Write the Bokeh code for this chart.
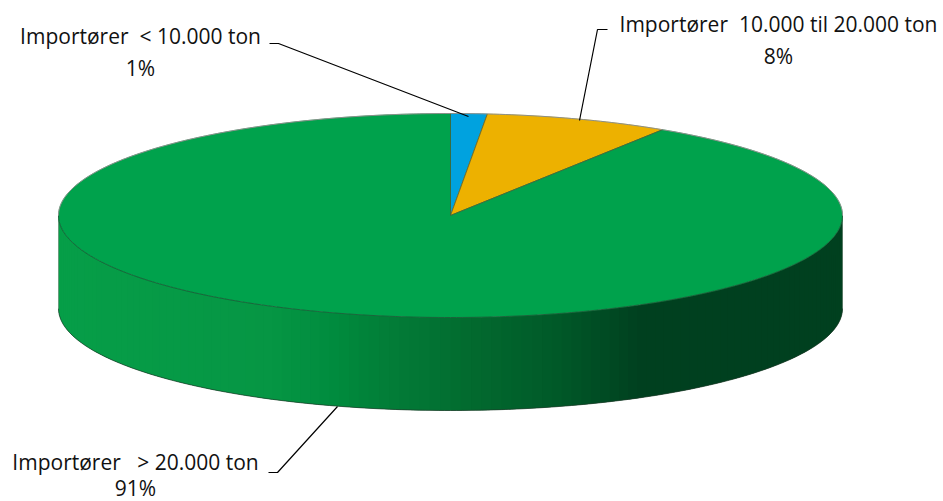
import math
from bokeh.plotting import figure
from bokeh.embed import file_html
from bokeh.resources import INLINE
from bokeh.core.properties import value

# ---- data
categories = ["Importører\u00a0 < 10.000 ton", "Importører\u00a0 10.000 til 20.000 ton", "Importører\u00a0 \u00a0> 20.000 ton"]
percent_labels = ["1%", "8%", "91%"]
shares = [1.5, 7.6, 90.9]
slice_colors = ["#00A2DF", "#EDB100", "#00A24C"]

# ---- geometry / style of the tilted pie (page pixels)
CX, CY, RX, RY, DEPTH = 450, 215, 392, 102, 93
wall_stops = [(58, (6, 158, 72)), (270, (6, 150, 68)), (330, (0, 140, 62)), (400, (2, 122, 54)),
              (480, (2, 104, 46)), (560, (0, 88, 40)), (640, (0, 64, 31)), (842, (0, 64, 31))]
label_x = [140, 778, 135]
label_y = [35, 23, 461]
line_gap = [32, 32, 26]
leaders = [([269, 278, 468], [43, 43, 116]),
           ([607, 597, 579], [29, 29, 120]),
           ([268, 277, 337], [472, 472, 406])]

FONT = "Open Sans"
FS = "21px"

W, H = 943, 501
p = figure(width=W, height=H, x_range=(0, W), y_range=(H, 0), output_backend="svg",
           toolbar_location=None, min_border=0, outline_line_color=None)
p.axis.visible = False
p.grid.visible = False
p.background_fill_color = "white"
p.border_fill_color = "white"


def wall_colour(x):
    for (x0, c0), (x1, c1) in zip(wall_stops, wall_stops[1:]):
        if x <= x1:
            t = (x - x0) / (x1 - x0)
            return "#%02x%02x%02x" % tuple(round(a + (b - a) * t) for a, b in zip(c0, c1))
    return "#%02x%02x%02x" % wall_stops[-1][1]


# wall strips (front half of the ellipse); each overlaps the next so that no seams show
N = 120
for i in range(N):
    angs = [math.pi * min(i + k, N) / N for k in range(3)]
    top_x = [CX - RX * math.cos(a) for a in angs]
    top_y = [CY + RY * math.sin(a) for a in angs]
    bot_y = [y + DEPTH for y in top_y]
    colour = wall_colour((top_x[0] + top_x[1]) / 2)
    p.patch(top_x + top_x[::-1], top_y + bot_y[::-1], fill_color=colour, line_color=None)

# bottom edge of the wall
arc = [math.pi * i / 200 for i in range(201)]
p.line([CX - RX * math.cos(a) for a in arc], [CY + DEPTH + RY * math.sin(a) for a in arc],
       line_color="#1c3a28", line_width=0.7)
p.line([CX - RX, CX - RX], [CY, CY + DEPTH], line_color="#6f8f7a", line_width=0.7)
p.line([CX + RX, CX + RX], [CY, CY + DEPTH], line_color="#5f7a68", line_width=0.7)

# top-face slices, clockwise from 12 o'clock: blue, yellow, green
start = 0.0
total = sum(shares)
for share, colour in zip(shares, slice_colors):
    end = start + share / total * 2 * math.pi
    n = max(4, int((end - start) * 80))
    ang = [start + (end - start) * k / n for k in range(n + 1)]
    px = [CX] + [CX + RX * math.sin(a) for a in ang]
    py = [CY] + [CY - RY * math.cos(a) for a in ang]
    p.patch(px, py, fill_color=colour, line_color=colour, line_width=0.5)
    p.line([px[1], CX, px[-1]], [py[1], CY, py[-1]], line_color="#4a5a3a", line_width=0.7)
    start = end

# outline of the top ellipse: dark in front, grey behind
front = [math.pi * i / 200 for i in range(201)]
p.line([CX + RX * math.cos(a) for a in front], [CY + RY * math.sin(a) for a in front],
       line_color="#1f4a30", line_width=0.7)
back = [math.pi + math.pi * i / 200 for i in range(201)]
p.line([CX + RX * math.cos(a) for a in back], [CY + RY * math.sin(a) for a in back],
       line_color="#8a8f8a", line_width=1)

# leader lines
for lx, ly in leaders:
    p.line(lx, ly, line_color="black", line_width=1.2)

# labels
for cat, pct, x, y, g in zip(categories, percent_labels, label_x, label_y, line_gap):
    p.text([x], [y], text=[cat], text_font=value(FONT), text_font_size=FS, text_color="#111111",
           text_align="center", text_baseline="middle")
    p.text([x], [y + g], text=[pct], text_font=value(FONT), text_font_size=FS, text_color="#111111",
           text_align="center", text_baseline="middle")

open("out.html", "w").write(file_html(p, INLINE))
